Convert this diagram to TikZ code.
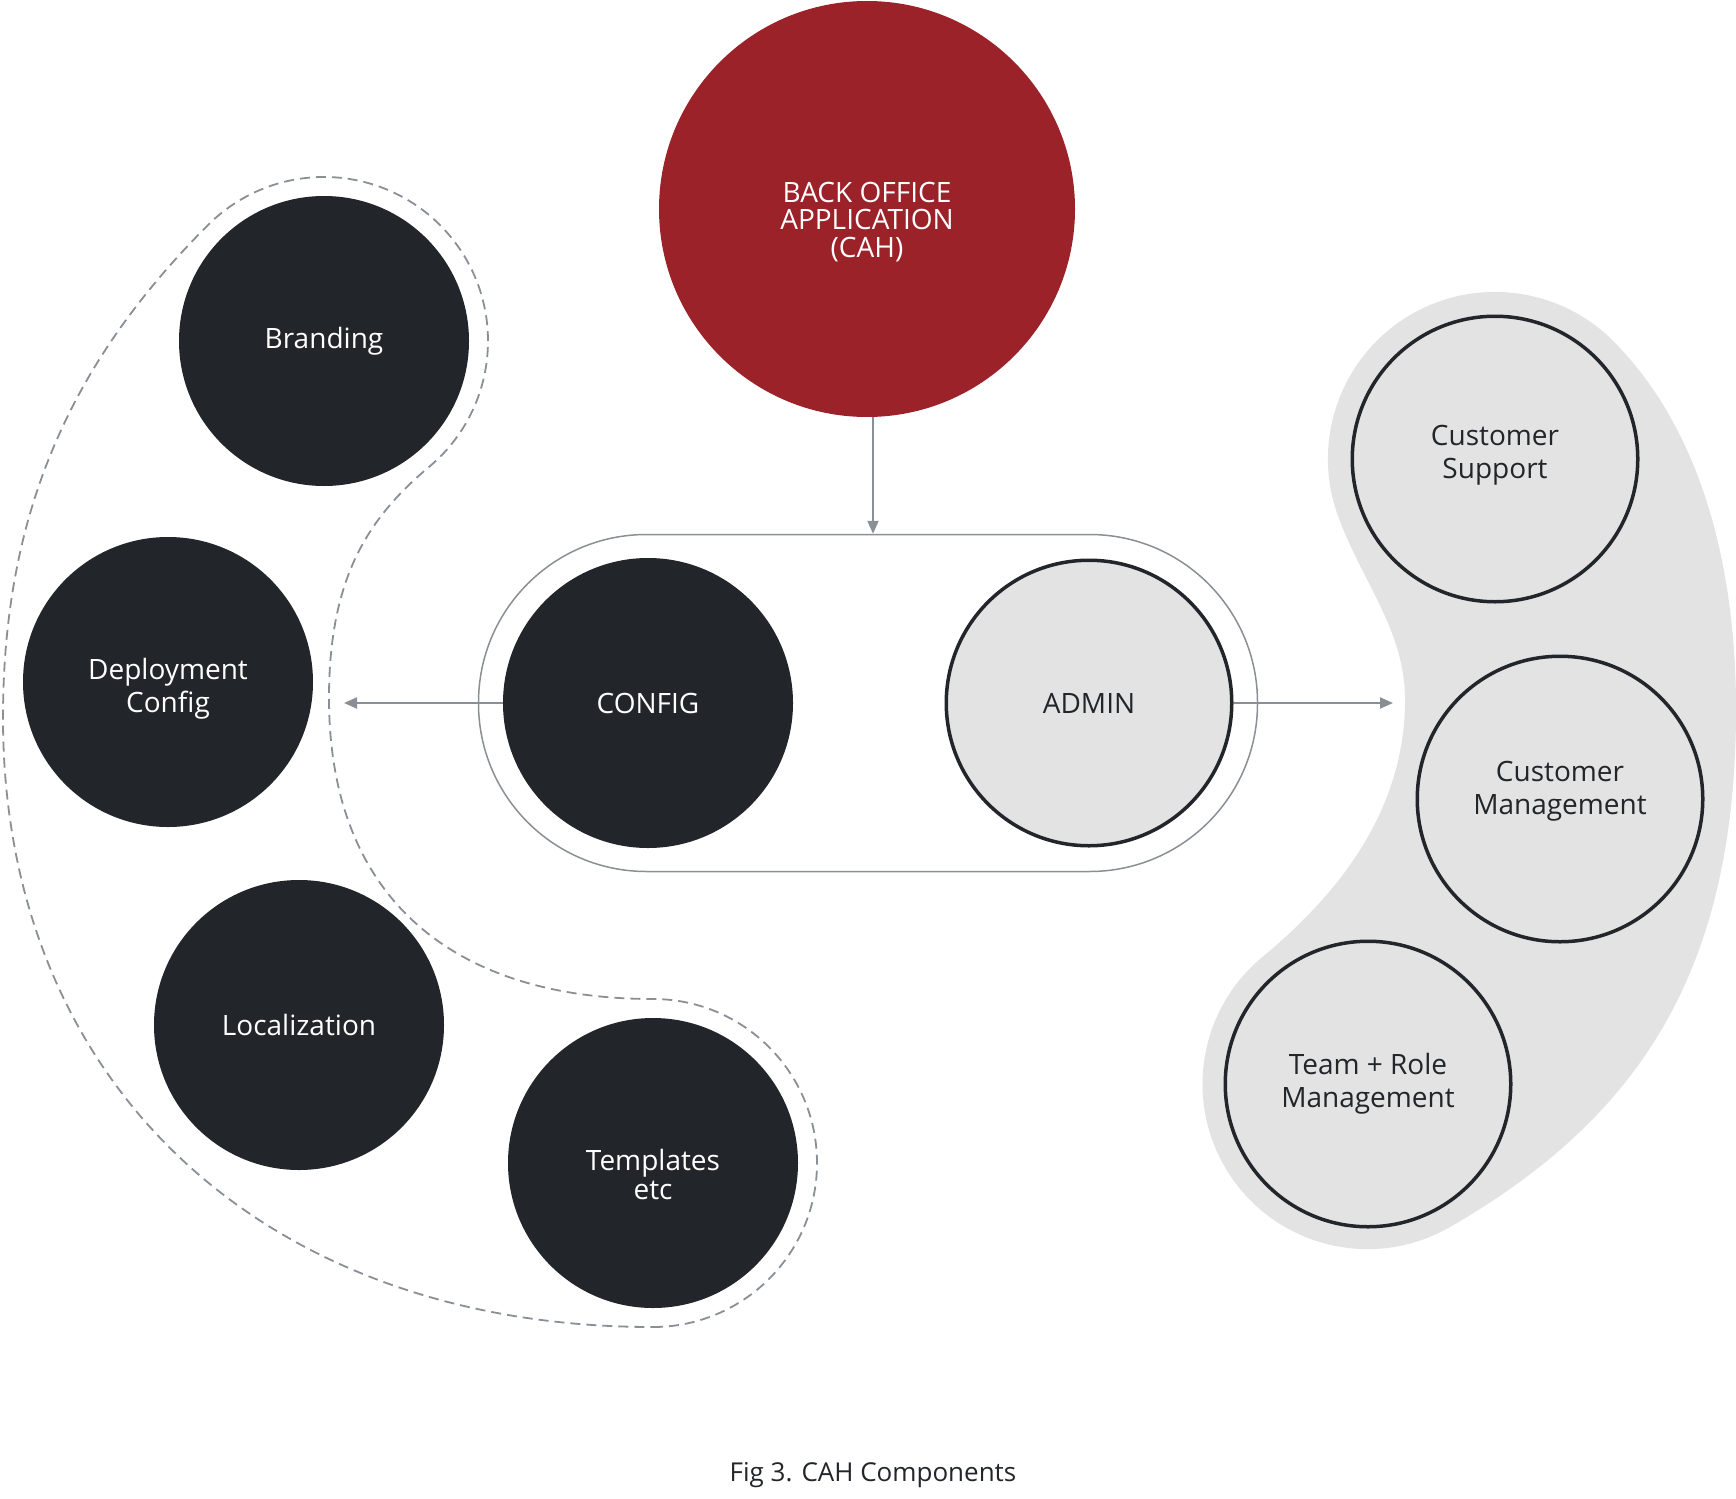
\documentclass[tikz,border=0pt]{standalone}
\usepackage{fontspec}
\setmainfont{Open Sans}
\usetikzlibrary{arrows.meta}
\definecolor{darkc}{RGB}{34,37,41}
\definecolor{redc}{RGB}{155,34,41}
\definecolor{lightc}{RGB}{227,227,227}
\definecolor{linec}{RGB}{138,143,150}
\begin{document}
\begin{tikzpicture}[x=1pt,y=1pt,
  txt/.style={align=center, font=\fontsize{28}{33}\selectfont},
  darkdisc/.style={circle, fill=darkc, minimum size=290pt, inner sep=0pt, text=white, txt},
  lightdisc/.style={circle, fill=lightc, draw=darkc, line width=3.5pt, minimum size=285.5pt, inner sep=0pt, text=darkc, txt},
  conn/.style={draw=linec, line width=2pt, -{Triangle[length=13pt,width=11pt]}},
  dashline/.style={draw=linec, line width=1.8pt, dash pattern=on 10pt off 6pt},
]
\useasboundingbox (0,0) rectangle (1736,-1498);

% right grey blob
\fill[lightc] (1338,-516) arc[start angle=200, end angle=45, radius=167]
  .. controls (1698,-426) and (1736,-559) .. (1736,-709)
  .. controls (1736,-969) and (1641,-1117) .. (1450,-1227)
  arc[start angle=-60, end angle=-230, radius=165]
  .. controls (1339,-894) and (1405,-810) .. (1405,-700)
  .. controls (1405,-630) and (1362,-582) .. (1338,-516) -- cycle;

% left dashed outline
\draw[dashline] (653,-1327) arc[start angle=-90, end angle=90, radius=164]
  .. controls (453,-999) and (329,-898) .. (329,-698)
  .. controls (329,-578) and (368,-518) .. (429.4,-466.6)
  arc[start angle=-50, end angle=135, radius=164]
  .. controls (67,-366) and (3,-518) .. (3,-718)
  .. controls (3,-1083) and (263,-1327) .. (653,-1327) -- cycle;

% top red circle
\node[circle, fill=redc, minimum size=416pt, inner sep=0pt] (cah) at (867,-209) {};
\node[txt, text=white, font=\fontsize{28}{27.5}\selectfont] (cahtext) at (867,-222) {BACK OFFICE\\APPLICATION\\(CAH)};

% central pill
\node[draw=linec, line width=1.5pt, fill=white, rounded corners=168pt,
      minimum width=779pt, minimum height=337pt, inner sep=0pt] (pill) at (868,-703) {};
\node[darkdisc] (config) at (648,-703) {CONFIG};
\node[lightdisc] (admin) at (1089,-703) {ADMIN};

% left group
\node[darkdisc] (branding) at (324,-341) {Branding};
\node[darkdisc] (deploy) at (168,-682) {};
\node[txt, text=white] (deploytext) at (168,-689) {Deployment\\Config};
\node[darkdisc] (local) at (299,-1025) {Localization};
\node[darkdisc] (templ) at (653,-1163) {};
\node[txt, text=white, font=\fontsize{28}{29}\selectfont] (templtext) at (653,-1174) {Templates\\etc};

% right group
\node[lightdisc] (support) at (1495,-459) {};
\node[txt, text=darkc] (supporttext) at (1495,-455) {Customer\\Support};
\node[lightdisc] (custmgmt) at (1560,-799) {};
\node[txt, text=darkc] (custmgmttext) at (1560,-791) {Customer\\Management};
\node[lightdisc] (team) at (1368,-1084) {Team + Role\\Management};

% connectors
\coordinate (leftend) at (344,-703);
\coordinate (rightend) at (1393,-703);
\draw[conn] ([xshift=6pt]cah.south) -- ([xshift=6pt]cah.south |- pill.north);
\draw[conn] (config.west) -- (leftend);
\draw[conn] (admin.east) -- (rightend);

% caption
\node[font=\fontsize{26}{30}\selectfont, text=darkc] (caption) at (873,-1475) {Fig 3. CAH Components};
\end{tikzpicture}
\end{document}
